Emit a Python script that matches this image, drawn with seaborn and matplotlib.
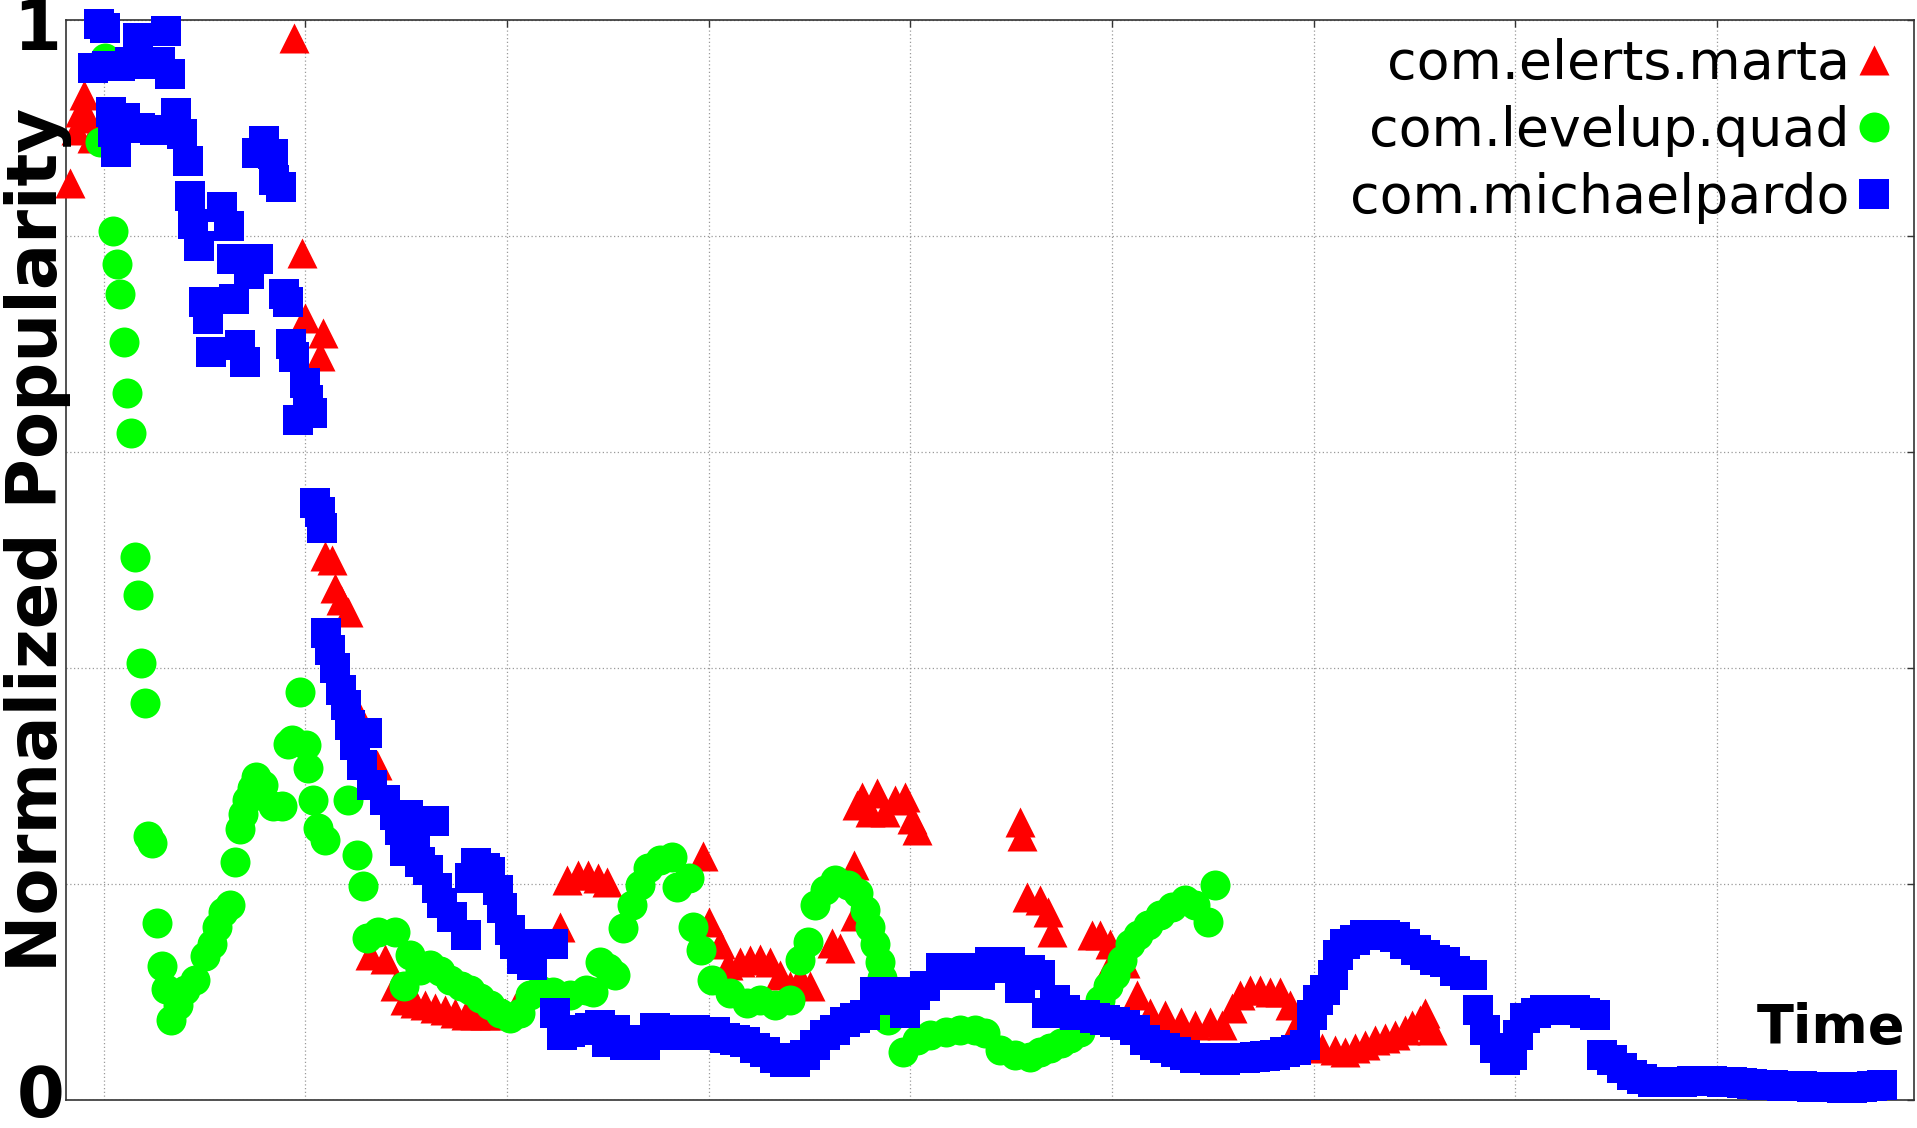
import numpy as np
import matplotlib
matplotlib.use("Agg")
import matplotlib.pyplot as plt
import seaborn as sns

# ── DATA (day index vs normalized popularity) ────────────────────────────────
LABELS = ["com.elerts.marta", "com.levelup.quad", "com.michaelpardo"]

red_day = [16.7, 17.3, 17.7, 18.1, 18.5, 18.9, 38.9, 39.7, 40.0, 41.5,
           41.8, 42.0, 42.7, 43.0, 43.5, 44.2, 45.1, 46.4, 47.1, 47.9,
           48.9, 49.9, 50.9, 51.9, 52.9, 53.9, 54.9, 55.9, 56.8, 57.8,
           58.8, 59.8, 60.8, 65.3, 66.0, 67.1, 68.0, 69.0, 69.9, 79.4,
           80.0, 81.1, 81.9, 83.1, 84.1, 85.1, 86.1, 87.1, 88.1, 89.1,
           90.1, 92.2, 93.0, 94.4, 94.5, 94.7, 95.2, 96.0, 96.7, 97.5,
           98.5, 99.5, 100.2, 100.7, 110.9, 111.1, 111.6, 112.9, 113.7, 114.1,
           118.0, 118.8, 119.8, 120.0, 121.3, 122.5, 123.8, 125.3, 126.8, 128.2,
           129.7, 130.9, 131.9, 132.7, 133.7, 134.7, 135.7, 136.7, 137.7, 138.5,
           139.6, 140.8, 142.1, 143.1, 144.1, 145.1, 146.1, 147.1, 148.1, 149.1,
           149.8, 150.5, 151.0, 151.7]
red_val = [0.849, 0.898, 0.915, 0.931, 0.909, 0.891, 0.983, 0.784, 0.724, 0.689,
           0.710, 0.504, 0.500, 0.474, 0.463, 0.452, 0.359, 0.134, 0.310, 0.131,
           0.106, 0.093, 0.090, 0.088, 0.085, 0.083, 0.081, 0.079, 0.079, 0.079,
           0.079, 0.081, 0.085, 0.160, 0.204, 0.208, 0.208, 0.206, 0.202, 0.226,
           0.165, 0.144, 0.125, 0.128, 0.130, 0.131, 0.128, 0.116, 0.106, 0.113,
           0.106, 0.145, 0.141, 0.218, 0.170, 0.273, 0.281, 0.267, 0.284, 0.267,
           0.278, 0.281, 0.260, 0.250, 0.257, 0.244, 0.188, 0.185, 0.174, 0.156,
           0.153, 0.153, 0.144, 0.128, 0.127, 0.097, 0.081, 0.079, 0.072, 0.069,
           0.072, 0.069, 0.085, 0.097, 0.102, 0.102, 0.100, 0.100, 0.088, 0.074,
           0.056, 0.048, 0.046, 0.044, 0.048, 0.051, 0.056, 0.057, 0.060, 0.065,
           0.069, 0.074, 0.081, 0.065]

green_day = [19.7, 20.1, 20.9, 21.3, 21.6, 22.0, 22.3, 22.7, 23.1, 23.4,
             23.7, 24.1, 24.4, 24.8, 25.3, 25.8, 26.2, 26.7, 27.4, 28.1,
             29.1, 30.1, 30.8, 31.3, 31.8, 32.5, 33.0, 33.5, 33.8, 34.2,
             34.7, 35.1, 35.8, 36.8, 37.7, 38.3, 38.7, 39.5, 40.1, 40.3,
             40.8, 41.3, 42.0, 44.2, 45.1, 45.7, 46.1, 47.2, 48.9, 49.8,
             50.4, 51.4, 52.4, 53.4, 54.4, 55.4, 56.3, 57.3, 58.3, 59.3,
             60.3, 61.3, 62.3, 63.3, 64.6, 66.3, 67.8, 68.5, 69.2, 70.0,
             70.7, 71.5, 72.4, 73.2, 74.0, 75.2, 76.4, 76.9, 78.1, 78.5,
             79.2, 80.3, 82.1, 83.8, 85.1, 86.6, 88.1, 89.1, 89.9, 90.6,
             91.5, 92.5, 93.8, 94.8, 95.5, 96.0, 96.5, 97.0, 97.2, 97.8,
             99.3, 100.7, 102.0, 103.5, 104.9, 106.4, 107.4, 108.9, 110.4, 111.9,
             112.9, 113.9, 114.9, 115.8, 116.8, 117.8, 118.8, 119.6, 120.3, 121.0,
             121.8, 122.6, 123.6, 124.8, 126.0, 127.2, 128.2, 129.5, 130.2]
green_val = [0.887, 0.965, 0.805, 0.774, 0.746, 0.702, 0.655, 0.618, 0.503, 0.468,
             0.405, 0.368, 0.244, 0.238, 0.164, 0.124, 0.103, 0.074, 0.088, 0.102,
             0.111, 0.133, 0.144, 0.160, 0.174, 0.181, 0.220, 0.251, 0.265, 0.278,
             0.289, 0.299, 0.292, 0.272, 0.272, 0.330, 0.333, 0.378, 0.329, 0.307,
             0.278, 0.252, 0.241, 0.278, 0.227, 0.198, 0.150, 0.156, 0.156, 0.106,
             0.134, 0.120, 0.125, 0.119, 0.111, 0.106, 0.102, 0.094, 0.088, 0.081,
             0.076, 0.081, 0.097, 0.102, 0.100, 0.097, 0.102, 0.100, 0.128, 0.122,
             0.116, 0.159, 0.181, 0.199, 0.215, 0.222, 0.225, 0.197, 0.206, 0.160,
             0.139, 0.111, 0.099, 0.090, 0.093, 0.088, 0.093, 0.130, 0.146, 0.181,
             0.194, 0.204, 0.199, 0.192, 0.176, 0.160, 0.144, 0.128, 0.113, 0.074,
             0.044, 0.056, 0.060, 0.063, 0.065, 0.065, 0.062, 0.046, 0.042, 0.040,
             0.044, 0.048, 0.053, 0.057, 0.063, 0.076, 0.093, 0.106, 0.116, 0.130,
             0.144, 0.153, 0.162, 0.171, 0.179, 0.185, 0.181, 0.165, 0.199]

blue_day = [19.0, 19.6, 20.1, 20.3, 20.7, 20.9, 21.2, 21.6, 22.1, 22.6,
            23.4, 23.6, 24.1, 25.1, 25.6, 26.2, 26.6, 27.2, 27.8, 28.4,
            28.6, 28.9, 29.5, 30.0, 30.4, 30.7, 31.7, 32.4, 32.7, 32.9,
            33.5, 34.0, 34.4, 35.2, 35.3, 35.9, 36.8, 36.9, 37.6, 37.9,
            38.3, 38.6, 38.9, 39.3, 40.0, 40.3, 40.7, 41.0, 41.5, 41.7,
            42.1, 42.5, 43.0, 43.5, 44.0, 44.4, 44.9, 45.6, 46.1, 46.6,
            47.9, 48.9, 49.4, 49.9, 50.2, 50.9, 51.4, 52.2, 52.8, 53.1,
            53.6, 54.6, 55.9, 56.3, 56.9, 57.8, 58.3, 59.1, 59.5, 60.3,
            60.8, 61.5, 62.5, 63.3, 64.6, 64.8, 65.5, 66.3, 67.3, 68.2,
            69.2, 69.9, 70.7, 71.7, 72.7, 73.7, 74.7, 75.7, 76.7, 77.7,
            78.7, 79.6, 80.6, 81.6, 82.6, 83.6, 84.6, 85.6, 86.6, 87.6,
            88.6, 89.6, 90.6, 91.5, 92.5, 93.5, 94.5, 95.5, 96.5, 97.5,
            98.5, 99.5, 100.5, 101.5, 103.0, 103.9, 104.9, 105.9, 106.9, 107.9,
            108.9, 109.9, 110.9, 111.9, 112.9, 113.6, 114.4, 115.3, 116.3, 117.3,
            118.3, 119.3, 120.3, 121.3, 122.3, 123.3, 124.3, 125.3, 126.3, 127.2,
            128.2, 129.2, 130.2, 131.2, 132.2, 133.2, 134.2, 135.2, 136.2, 137.2,
            138.2, 139.1, 139.8, 140.4, 141.1, 141.9, 142.4, 143.1, 144.1, 145.1,
            146.1, 147.1, 148.1, 149.1, 150.1, 151.0, 152.0, 153.0, 154.0, 155.0,
            155.7, 156.3, 157.0, 158.0, 159.0, 159.7, 160.3, 161.0, 162.0, 162.9,
            163.9, 164.9, 165.9, 166.9, 167.9, 168.6, 169.6, 170.6, 171.6, 172.6,
            173.6, 174.5, 175.5, 176.5, 177.5, 178.5, 179.5, 180.5, 181.5, 182.5,
            183.5, 184.5, 185.5, 186.4, 187.4, 188.4, 189.4, 190.4, 191.4, 192.4,
            193.4, 194.4, 195.4, 196.4]
blue_val = [0.956, 0.996, 0.993, 0.957, 0.915, 0.896, 0.878, 0.957, 0.909, 0.961,
            0.983, 0.900, 0.959, 0.898, 0.961, 0.990, 0.950, 0.914, 0.894, 0.869,
            0.837, 0.811, 0.791, 0.739, 0.723, 0.693, 0.827, 0.809, 0.779, 0.742,
            0.699, 0.683, 0.765, 0.877, 0.779, 0.888, 0.876, 0.852, 0.845, 0.746,
            0.739, 0.700, 0.688, 0.630, 0.664, 0.648, 0.636, 0.553, 0.544, 0.530,
            0.432, 0.417, 0.400, 0.380, 0.366, 0.347, 0.329, 0.310, 0.340, 0.292,
            0.278, 0.264, 0.250, 0.231, 0.264, 0.236, 0.220, 0.213, 0.258, 0.196,
            0.182, 0.169, 0.153, 0.206, 0.219, 0.215, 0.211, 0.194, 0.178, 0.157,
            0.144, 0.131, 0.125, 0.144, 0.144, 0.081, 0.060, 0.063, 0.065, 0.067,
            0.069, 0.054, 0.065, 0.051, 0.056, 0.051, 0.067, 0.060, 0.065, 0.060,
            0.065, 0.060, 0.063, 0.057, 0.056, 0.054, 0.048, 0.044, 0.039, 0.035,
            0.035, 0.042, 0.051, 0.060, 0.065, 0.072, 0.076, 0.079, 0.100, 0.093,
            0.100, 0.081, 0.097, 0.106, 0.122, 0.116, 0.122, 0.119, 0.116, 0.128,
            0.122, 0.128, 0.104, 0.120, 0.116, 0.081, 0.093, 0.083, 0.079, 0.079,
            0.076, 0.074, 0.072, 0.069, 0.065, 0.056, 0.051, 0.048, 0.044, 0.042,
            0.039, 0.039, 0.037, 0.037, 0.039, 0.039, 0.040, 0.041, 0.042, 0.044,
            0.046, 0.051, 0.079, 0.093, 0.102, 0.116, 0.134, 0.144, 0.148, 0.153,
            0.153, 0.153, 0.151, 0.144, 0.139, 0.134, 0.130, 0.128, 0.119, 0.116,
            0.116, 0.083, 0.065, 0.048, 0.037, 0.042, 0.060, 0.076, 0.081, 0.083,
            0.083, 0.083, 0.083, 0.081, 0.079, 0.042, 0.037, 0.030, 0.023, 0.019,
            0.017, 0.017, 0.017, 0.017, 0.018, 0.018, 0.018, 0.017, 0.017, 0.016,
            0.015, 0.014, 0.014, 0.013, 0.013, 0.013, 0.012, 0.012, 0.012, 0.011,
            0.011, 0.012, 0.013, 0.014]

# ── STYLE ────────────────────────────────────────────────────────────────────
sns.set_style("white")
plt.rcParams["font.family"] = ["DejaVu Sans"]
plt.rcParams["text.color"] = "black"

W, H = 1917, 1128
fig = plt.figure(figsize=(W / 100, H / 100), dpi=100)
ax = fig.add_axes([66 / W, 28 / H, 1848 / W, 1080 / H])

MS = 21.6 ** 2  # marker area in pt^2 (~30 px wide)
common = dict(ax=ax, s=MS, linewidth=0, clip_on=False, zorder=3)
sns.scatterplot(x=red_day, y=red_val, marker="^", color="#ff0000", label=LABELS[0], **common)
sns.scatterplot(x=green_day, y=green_val, marker="o", color="#00ff00", label=LABELS[1], **common)
sns.scatterplot(x=blue_day, y=blue_val, marker="s", color="#0000ff", label=LABELS[2], **common)

ax.set_xlim(16.28, 199.53)
ax.set_ylim(0, 1)
ax.set_xticks(np.arange(20, 181, 20))
ax.set_yticks(np.arange(0, 1.01, 0.2))
ax.set_xticklabels([])
ax.set_yticklabels([])
ax.set_xlabel("")
ax.set_ylabel("")
ax.tick_params(direction="in", length=5, width=1, top=True, right=True, color="#333333")
ax.grid(True, linestyle=(0, (1, 2)), color="#9a9a9a", linewidth=0.9)
ax.set_axisbelow(True)
for sp in ax.spines.values():
    sp.set_color("#333333")
    sp.set_linewidth(1.2)
    sp.set_visible(True)

# y tick labels only at the ends, bold like the original
ax.annotate("1", xy=(0, 1), xycoords="axes fraction", xytext=(-5, -30), textcoords="offset pixels",
            ha="right", va="baseline", fontsize=49.5, fontweight="bold", color="black")
ax.annotate("0", xy=(0, 0), xycoords="axes fraction", xytext=(-1, -17), textcoords="offset pixels",
            ha="right", va="baseline", fontsize=49.5, fontweight="bold", color="black")

fig.text(57 / W, 1 - 540 / H, "Normalized Popularity", rotation=90, rotation_mode="anchor",
         ha="center", va="baseline", fontsize=49.5, fontweight="bold", color="black")
ax.annotate("Time", xy=(1, 0), xycoords="axes fraction", xytext=(-9, 57), textcoords="offset pixels",
            ha="right", va="baseline", fontsize=39, fontweight="bold", color="black")

leg = ax.legend(loc="upper right", bbox_to_anchor=(1.0, 1.0 + 6 / 1080), frameon=False, markerfirst=False,
                fontsize=38.7, handlelength=0.6, handletextpad=0.15, labelspacing=0.28,
                borderpad=0.0, borderaxespad=0.45, scatterpoints=1, scatteryoffsets=[0.5],
                labelcolor="black")

fig.savefig("out.png", dpi=100)
